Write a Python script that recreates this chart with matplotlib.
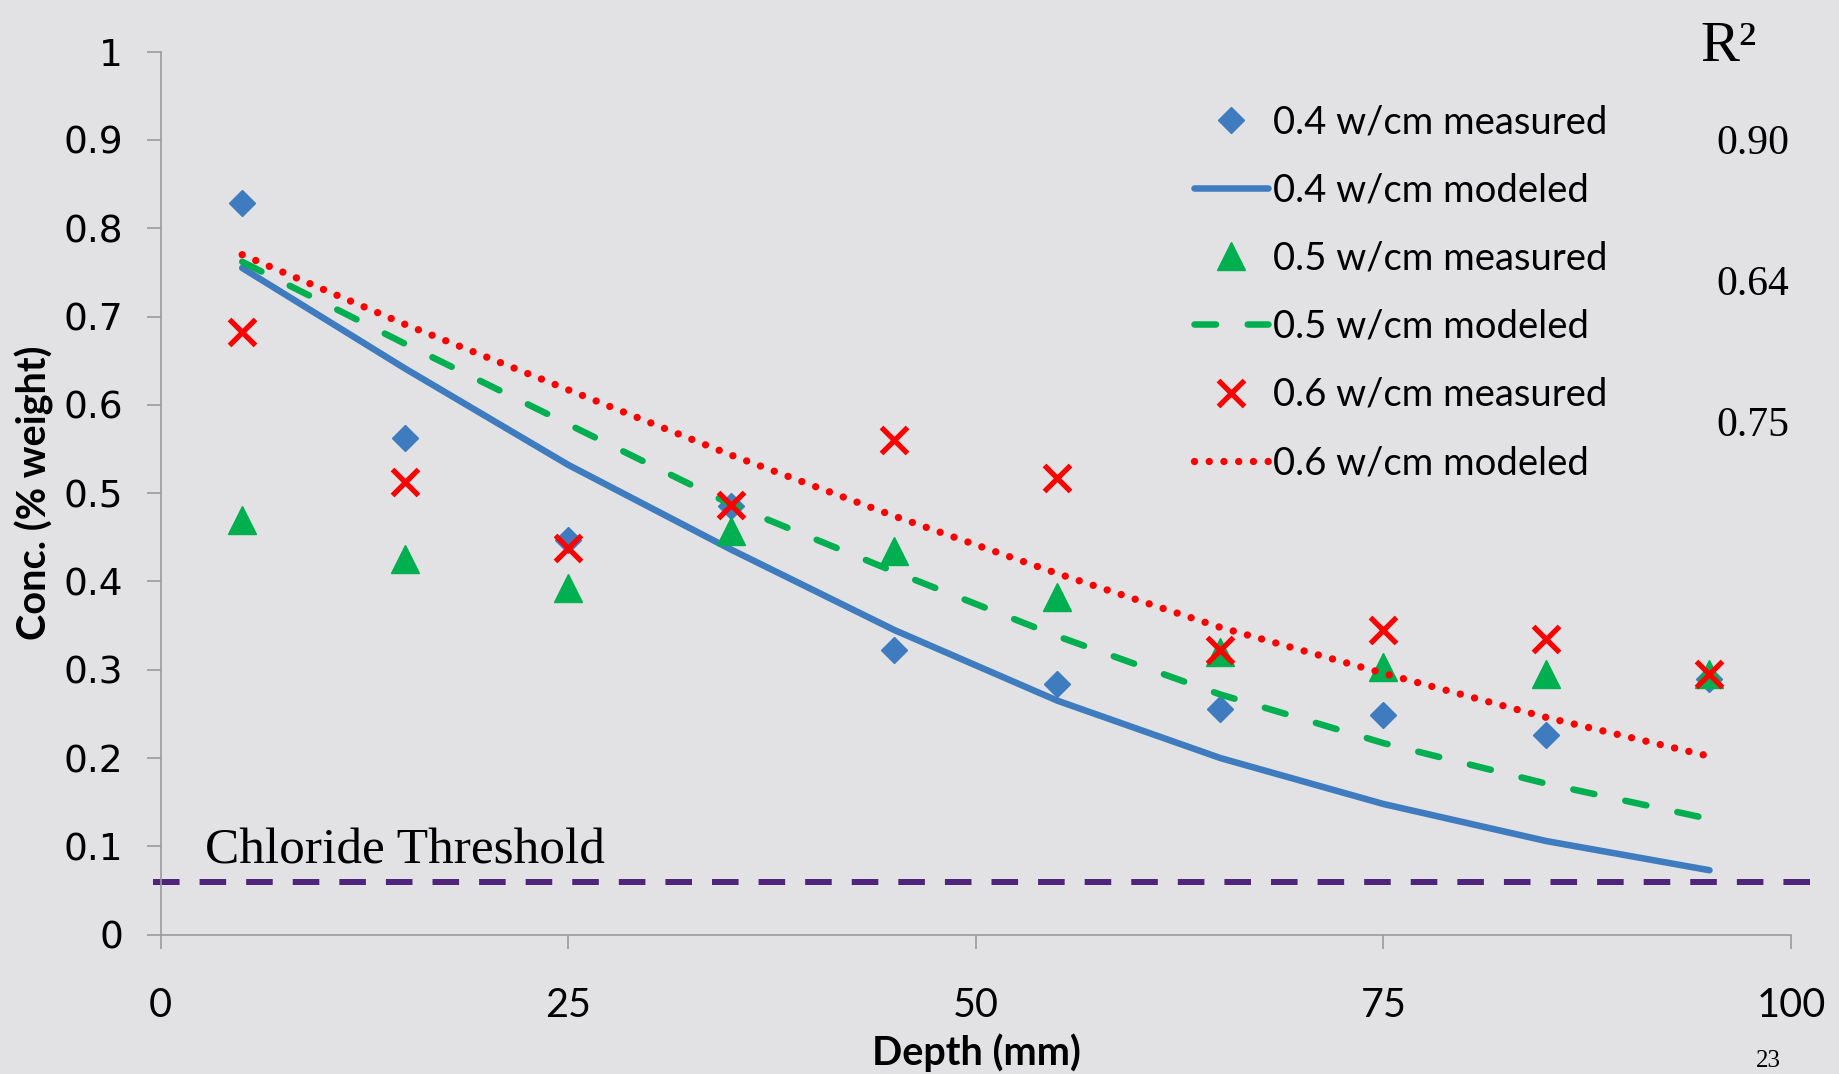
import matplotlib
matplotlib.use('Agg')
from matplotlib import pyplot as plt

# depth of each sample (mm)
depth = [5, 15, 25, 35, 45, 55, 65, 75, 85, 95]

# chloride concentration (% weight)
meas_04 = [0.828, 0.563, 0.447, 0.485, 0.322, 0.284, 0.256, 0.249, 0.226, 0.290]
model_04 = [0.755, 0.641, 0.532, 0.436, 0.345, 0.265, 0.200, 0.148, 0.106, 0.073]
meas_05 = [0.470, 0.425, 0.393, 0.457, 0.435, 0.382, 0.320, 0.303, 0.295, 0.295]
model_05 = [0.762, 0.669, 0.578, 0.487, 0.411, 0.338, 0.272, 0.217, 0.171, 0.131]
meas_06 = [0.682, 0.513, 0.438, 0.487, 0.560, 0.517, 0.322, 0.345, 0.335, 0.295]
model_06 = [0.770, 0.691, 0.617, 0.543, 0.474, 0.409, 0.348, 0.296, 0.246, 0.202]

r_squared = ['0.90', '0.64', '0.75']
threshold = 0.06

x_ticks = [0, 25, 50, 75, 100]
y_ticks = [0, 0.1, 0.2, 0.3, 0.4, 0.5, 0.6, 0.7, 0.8, 0.9, 1]
y_tick_labels = ['0', '0.1', '0.2', '0.3', '0.4', '0.5', '0.6', '0.7', '0.8', '0.9', '1']

BG = '#E2E2E4'
BLUE = '#3E7CBF'
GREEN = '#00B050'
RED = '#FF0000'
PURPLE = '#50237C'
AXIS_GRAY = '#9A9A9A'
SANS = ['Lato', 'DejaVu Sans']
SERIF = ['Liberation Serif', 'DejaVu Serif']

W, H = 1839, 1074


def fpos(x, y):
    # pixel position -> figure fraction
    return x / W, 1 - y / H


fig = plt.figure(figsize=(W / 100, H / 100), dpi=100, facecolor=BG)
ax = fig.add_axes([160.7 / W, 1 - 934.7 / H, (1791 - 160.7) / W, (934.7 - 51.6) / H])
ax.set_facecolor(BG)

lw = 4.7
ax.plot(depth, meas_04, linestyle='none', marker='D', markersize=13.5, color=BLUE,
        label='0.4 w/cm measured')
ax.plot(depth, model_04, color=BLUE, linewidth=lw, solid_capstyle='round',
        label='0.4 w/cm modeled')
ax.plot(depth, meas_05, linestyle='none', marker='^', markersize=20, color=GREEN,
        label='0.5 w/cm measured')
ax.plot(depth, model_05, color=GREEN, linewidth=lw, linestyle=(0, (3.3, 4.85)),
        dash_capstyle='round', label='0.5 w/cm modeled')
ax.plot(depth, meas_06, linestyle='none', marker='x', markersize=19,
        markeredgewidth=3.8, color=RED, label='0.6 w/cm measured')
ax.plot(depth, model_06, color=RED, linewidth=5.3, linestyle=(0, (0.001, 2.0)),
        dash_capstyle='round', label='0.6 w/cm modeled')

# chloride threshold line, runs a bit past the axis ends
ax.plot([-0.5, 101.7], [threshold, threshold], color=PURPLE, linewidth=4.3,
        linestyle=(0, (4.45, 3.35)), dash_capstyle='butt', clip_on=False)
ax.text(2.7, threshold + 0.021, 'Chloride Threshold', family=SERIF, fontsize=37,
        ha='left', va='baseline')

ax.set_xlim(0, 100)
ax.set_ylim(0, 1)
ax.set_xticks(x_ticks)
ax.set_xticklabels([str(t) for t in x_ticks], family=SANS, fontsize=28.5)
ax.set_yticks(y_ticks)
ax.set_yticklabels(y_tick_labels, family='DejaVu Sans', fontsize=27)
ax.tick_params(axis='both', direction='out', length=10, width=1.2, color=AXIS_GRAY)
ax.tick_params(axis='x', pad=28)
ax.tick_params(axis='y', pad=17)
for side in ['top', 'right']:
    ax.spines[side].set_visible(False)
for side in ['left', 'bottom']:
    ax.spines[side].set_color(AXIS_GRAY)
    ax.spines[side].set_linewidth(1.2)

leg = ax.legend(loc='upper left', bbox_to_anchor=(0.634, 0.94), frameon=False,
                prop={'family': SANS, 'size': 27.5}, handlelength=1.93,
                handletextpad=0.13, labelspacing=0.84, borderpad=0,
                borderaxespad=0, numpoints=1)

# axis titles
fig.text(*fpos(976, 1053), 'Depth (mm)', family=SANS, fontsize=28.5, fontweight='bold',
         ha='center', va='center')
fig.text(*fpos(34, 493), 'Conc. (% weight)', family=SANS, fontsize=28.5,
         fontweight='bold', rotation=90, ha='center', va='center')

# R squared column
fig.text(*fpos(1700, 61), 'R²', family=SERIF, fontsize=42, ha='left', va='baseline')
for val, yc in zip(r_squared, [144, 285, 426]):
    fig.text(*fpos(1716, yc), val, family=SERIF, fontsize=30, ha='left', va='center')

# slide number
fig.text(*fpos(1768, 1072), '23', family=SERIF, fontsize=18, ha='center', va='bottom')

fig.savefig('out.png', dpi=100, facecolor=BG)
